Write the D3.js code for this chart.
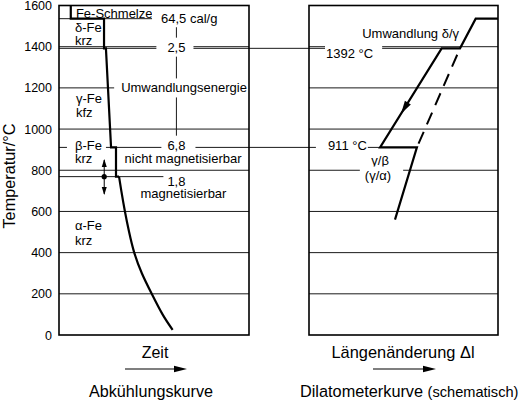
<!DOCTYPE html>
<html><head><meta charset="utf-8">
<script src="https://cdn.jsdelivr.net/npm/d3@7"></script>
<style>
body{margin:0;background:#fff}
svg{display:block}
text{font-family:"Liberation Sans",Arial,Helvetica,sans-serif;fill:#000}
</style>
</head><body>
<svg id="chart" width="520" height="402"></svg>
<script>
// ---------------- data ----------------
const yTicks = [0, 200, 400, 600, 800, 1000, 1200, 1400, 1600];
const gridTemps = [200, 400, 600, 800, 1000, 1200, 1400];
const tMelt = 1536, tDelta = 1392, tBeta = 911, tCurie = 769;

// cooling curve (Abkühlungskurve): time (relative units 0-100) vs temperature
const coolTime = [6.2, 6.2, 23.7, 23.7, 24.7, 27.4, 30.0, 30.0, 31.6];
const coolTemp = [1600, 1536, 1536, 1392, 1392, 911, 911, 769, 769];
const tailTime = [31.6, 32.8, 34.7, 36.9, 39.6, 43.6, 48.8, 54.5, 59.8];
const tailTemp = [769, 700, 600, 500, 400, 300, 200, 100, 25];

// dilatometer curve: length change (relative units 0-100) vs temperature
const dilaLen = [45.5, 57.1, 37.6, 70.2, 79.9, 88.2, 100];
const dilaTemp = [560, 911, 911, 1392, 1392, 1536, 1536];
const dashLen = [79.9, 57.1];
const dashTemp = [1392, 911];

// energies (cal/g) at the transformations
const energyLabels = ["64,5 cal/g", "2,5", "6,8", "1,8"];
const energyTemps = [1536, 1398, 922, 748];

// ---------------- layout ----------------
const svg = d3.select("#chart");
const y = d3.scaleLinear().domain([0, 1600]).range([335, 5.5]);
const xL = d3.scaleLinear().domain([0, 100]).range([59, 249]);
const xR = d3.scaleLinear().domain([0, 100]).range([309, 498]);
const FS = 13;
const gridCol = "#1a1a1a";

// gridlines
[xL, xR].forEach(xs => {
  svg.append("g").selectAll("line").data(gridTemps).join("line")
    .attr("x1", xs(0)).attr("x2", xs(100))
    .attr("y1", d => y(d)).attr("y2", d => y(d))
    .attr("stroke", gridCol).attr("stroke-width", 1);
});

// transformation reference lines
const refs = [
  {t: tMelt,  x1: xL(0), x2: xL(61.8)},
  {t: tDelta, x1: xL(0), x2: xR(dilaLen[3])},
  {t: tBeta,  x1: xL(0), x2: xR(dilaLen[2])},
  {t: tCurie, x1: xL(0), x2: xL(61.8)}
];
svg.append("g").selectAll("line").data(refs).join("line")
  .attr("x1", d => d.x1).attr("x2", d => d.x2)
  .attr("y1", d => y(d.t)).attr("y2", d => y(d.t))
  .attr("stroke", gridCol).attr("stroke-width", 1);

// vertical energy line
svg.append("line")
  .attr("x1", xL(61.8)).attr("x2", xL(61.8))
  .attr("y1", y(tMelt)).attr("y2", y(tBeta))
  .attr("stroke", gridCol).attr("stroke-width", 1);

// labels
const labels = [
  // left panel
  {s: "Fe-Schmelze", xs: xL, x: 8.9, t: 1563, a: "start"},
  {s: energyLabels[0], xs: xL, x: 53.7, t: energyTemps[0], a: "start", pad: [9, 2, 1, 1]},
  {s: "δ-Fe", xs: xL, x: 8.4, t: 1492, a: "start"},
  {s: "krz", xs: xL, x: 8.4, t: 1431, a: "start"},
  {s: energyLabels[1], xs: xL, x: 61.8, t: energyTemps[1], a: "middle", pad: [11, 8, 2, 2]},
  {s: "Umwandlungsenergie", xs: xL, x: 65.8, t: 1200, a: "middle", pad: [7, 7, 2, 2]},
  {s: "γ-Fe", xs: xL, x: 8.9, t: 1151, a: "start"},
  {s: "kfz", xs: xL, x: 8.9, t: 1083, a: "start"},
  {s: "β-Fe", xs: xL, x: 8.4, t: 920, a: "start", pad: [8, 4, 1, 1]},
  {s: "krz", xs: xL, x: 8.4, t: 855, a: "start"},
  {s: energyLabels[2], xs: xL, x: 61.8, t: energyTemps[2], a: "middle", pad: [6, 10, 2, 2]},
  {s: "nicht magnetisierbar", xs: xL, x: 65.3, t: 857, a: "middle"},
  {s: energyLabels[3], xs: xL, x: 61.8, t: energyTemps[3], a: "middle", pad: [4, 2, 1, 1]},
  {s: "magnetisierbar", xs: xL, x: 65.5, t: 689, a: "middle"},
  {s: "α-Fe", xs: xL, x: 8.4, t: 534, a: "start"},
  {s: "krz", xs: xL, x: 8.4, t: 461, a: "start"},
  // right panel
  {s: "Umwandlung δ/γ", xs: xR, x: 79.4, t: 1466, a: "end"},
  {s: "1392 °C", xs: xR, x: 9.0, t: 1369, a: "start", pad: [1, 9, 1, 1]},
  {s: "911 °C", xs: xR, x: 10.0, t: 918, a: "start", pad: [12, 1, 1, 1]},
  {s: "γ/β", xs: xR, x: 37.6, t: 846, a: "middle", pad: [2, 2, 1, 1]},
  {s: "(γ/α)", xs: xR, x: 36.5, t: 777, a: "middle", pad: [5, 12, 1, 1]}
];
const lg = svg.append("g");
labels.forEach(l => {
  const g = lg.append("g");
  const tx = g.append("text")
    .attr("x", l.xs(l.x)).attr("y", y(l.t)).attr("dy", "0.35em")
    .attr("text-anchor", l.a).attr("font-size", FS).text(l.s);
  if (l.pad) {
    const b = tx.node().getBBox();
    g.insert("rect", "text")
      .attr("x", b.x - l.pad[0]).attr("y", b.y - l.pad[2])
      .attr("width", b.width + l.pad[0] + l.pad[1])
      .attr("height", b.height + l.pad[2] + l.pad[3])
      .attr("fill", "#fff");
  }
});

// cooling curve
const lineL = d3.line().x(d => xL(d[0])).y(d => y(d[1]));
svg.append("path").datum(d3.zip(coolTime, coolTemp))
  .attr("d", lineL).attr("fill", "none").attr("stroke", "#000")
  .attr("stroke-width", 2.2).attr("stroke-linejoin", "miter");
const lineTail = d3.line().x(d => xL(d[0])).y(d => y(d[1])).curve(d3.curveNatural);
svg.append("path").datum(d3.zip(tailTime, tailTemp))
  .attr("d", lineTail).attr("fill", "none").attr("stroke", "#000")
  .attr("stroke-width", 2.2);

// dilatometer curve
const lineR = d3.line().x(d => xR(d[0])).y(d => y(d[1]));
svg.append("path").datum(d3.zip(dilaLen, dilaTemp))
  .attr("d", lineR).attr("fill", "none").attr("stroke", "#000")
  .attr("stroke-width", 2.2).attr("stroke-linejoin", "miter");
svg.append("path").datum(d3.zip(dashLen, dashTemp))
  .attr("d", lineR).attr("fill", "none").attr("stroke", "#000")
  .attr("stroke-width", 2).attr("stroke-dasharray", "13,8").attr("stroke-dashoffset", -7);

// arrowhead helper
function head(tipX, tipY, ang, len, w) {
  const bx = tipX - len * Math.cos(ang), by = tipY - len * Math.sin(ang);
  const nx = -Math.sin(ang) * w / 2, ny = Math.cos(ang) * w / 2;
  svg.append("path")
    .attr("d", `M${tipX},${tipY}L${bx + nx},${by + ny}L${bx - nx},${by - ny}Z`)
    .attr("fill", "#000");
}
// arrow on the cooling branch of the dilatometer curve
{
  const x1 = xR(dilaLen[3]), y1 = y(dilaTemp[3]), x2 = xR(dilaLen[2]), y2 = y(dilaTemp[2]);
  const t = 0.66;
  const ang = Math.atan2(y2 - y1, x2 - x1);
  head(x1 + t * (x2 - x1), y1 + t * (y2 - y1), ang, 13, 7);
}

// double arrow (Curie point)
{
  const ax = xL(23.8);
  svg.append("line").attr("x1", ax).attr("x2", ax)
    .attr("y1", y(850)).attr("y2", y(685)).attr("stroke", "#000").attr("stroke-width", 1);
  head(ax, y(855), -Math.PI / 2, 8, 5);
  head(ax, y(680), Math.PI / 2, 8, 5);
  svg.append("circle").attr("cx", ax).attr("cy", y(tCurie)).attr("r", 2.6).attr("fill", "#000");
}

// panel frames
[xL, xR].forEach(xs => {
  svg.append("rect")
    .attr("x", xs(0)).attr("y", y(1600))
    .attr("width", xs(100) - xs(0)).attr("height", y(0) - y(1600))
    .attr("fill", "none").attr("stroke", "#000").attr("stroke-width", 1.6);
});

// y axis
const ax = svg.append("g").attr("transform", `translate(${xL(0)},0)`)
  .call(d3.axisLeft(y).tickValues(yTicks).tickSize(0).tickPadding(7).tickFormat(d3.format("d")));
ax.select(".domain").remove();
ax.selectAll("text").attr("font-size", 12.5)
  .attr("font-family", '"Liberation Sans",Arial,sans-serif').attr("fill", "#000");

svg.append("text")
  .attr("transform", `translate(15,176) rotate(-90)`)
  .attr("text-anchor", "middle").attr("font-size", 16.3).text("Temperatur/°C");

// bottom captions
function hArrow(x1, x2, yy) {
  svg.append("line").attr("x1", x1).attr("x2", x2 - 8).attr("y1", yy).attr("y2", yy)
    .attr("stroke", "#000").attr("stroke-width", 1.2);
  head(x2, yy, 0, 13, 6.5);
}
svg.append("text").attr("x", 155).attr("y", 358).attr("text-anchor", "middle")
  .attr("font-size", 16).text("Zeit");
hArrow(125, 187, 369);
svg.append("text").attr("x", 151).attr("y", 397).attr("text-anchor", "middle")
  .attr("font-size", 16.2).text("Abkühlungskurve");

svg.append("text").attr("x", 403).attr("y", 358).attr("text-anchor", "middle")
  .attr("font-size", 16.4).text("Längenänderung Δl");
hArrow(373, 436, 369);
const dt = svg.append("text").attr("x", 300).attr("y", 397).attr("font-size", 16.3);
dt.append("tspan").text("Dilatometerkurve ");
dt.append("tspan").attr("font-size", 14.6).text("(schematisch)");
</script>
</body></html>
